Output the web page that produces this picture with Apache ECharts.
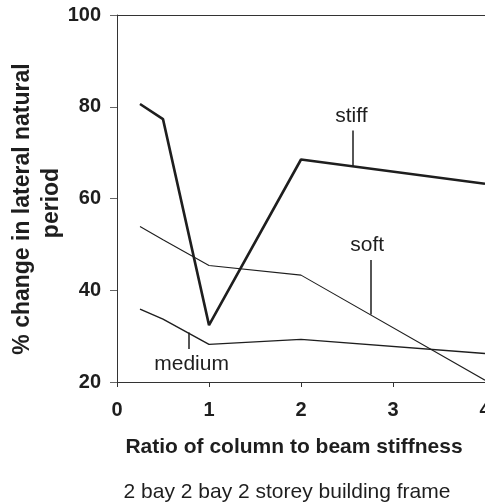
<!DOCTYPE html>
<html>
<head>
<meta charset="utf-8">
<style>
  html, body { margin: 0; padding: 0; background: #fff; }
  #chart { width: 485px; height: 504px; }
</style>
<script src="https://cdn.jsdelivr.net/npm/echarts@6/dist/echarts.min.js"></script>
</head>
<body>
<div id="chart"></div>
<script>
// Stiffness ratio (column / beam) sampled for each frame type
const ratio = [0.25, 0.5, 1, 2, 4];

// % change in lateral natural period
const stiff  = [80.6, 77.3, 32.4, 68.5, 63.2];
const soft   = [53.9, 51.0, 45.4, 43.3, 20.4];
const medium = [35.9, 33.7, 28.2, 29.3, 26.2];

// Axis ticks
const xTicks = [0, 1, 2, 3, 4];
const yTicks = [20, 40, 60, 80, 100];

// Callout text and its leader, in data units: [labelX, labelY, leaderX, leaderTop, leaderBottom]
const stiffCallout  = ['stiff',  2.547, 77.9, 2.558, 74.8, 67.1];
const softCallout   = ['soft',   2.720, 49.9, 2.757, 46.6, 34.7];
const mediumCallout = ['medium', 0.811, 23.8, 0.775, 30.8, 27.2];

const FONT = '"Liberation Sans", Arial, Helvetica, sans-serif';
const INK = '#1e1e1e';

function pairs(xs, ys) { return xs.map((x, i) => [x, ys[i]]); }

function callout(c) {
  return {
    markLine: {
      silent: true,
      symbol: ['none', 'none'],
      label: { show: false },
      lineStyle: { type: 'solid', color: INK, width: 1.5 },
      data: [[{ coord: [c[3], c[4]] }, { coord: [c[3], c[5]] }]]
    },
    markPoint: {
      silent: true,
      symbol: 'circle',
      symbolSize: 0,
      label: {
        show: true, position: 'inside', formatter: c[0],
        fontFamily: FONT, fontSize: 21, color: INK
      },
      data: [{ coord: [c[1], c[2]] }]
    }
  };
}

function lineSeries(name, ys, width, c) {
  return Object.assign({
    name: name,
    type: 'line',
    data: pairs(ratio, ys),
    symbol: 'none',
    lineStyle: { color: INK, width: width },
    clip: false
  }, callout(c));
}

const xRange = { type: 'value', min: xTicks[0], max: xTicks[xTicks.length - 1], interval: 1 };

const chart = echarts.init(document.getElementById('chart'), null, { renderer: 'canvas' });

chart.setOption({
  animation: false,
  backgroundColor: '#fff',
  grid: {
    left: 117, top: 15, width: 368, height: 367,
    containLabel: false,
    outerBoundsMode: 'none',
    show: false
  },
  xAxis: [
    Object.assign({}, xRange, {
      position: 'bottom',
      name: 'Ratio of column to beam stiffness',
      nameLocation: 'middle',
      nameGap: 55,
      nameTextStyle: {
        fontFamily: FONT, fontSize: 21, fontWeight: 'bold', color: INK,
        padding: [0, 14, 0, 0]
      },
      axisLine: { show: true, lineStyle: { color: '#333', width: 1 } },
      axisTick: { show: true, inside: false, length: 5, lineStyle: { color: '#333' } },
      axisLabel: { margin: 18, fontFamily: FONT, fontSize: 20, fontWeight: 'bold', color: INK, showMaxLabel: true },
      splitLine: { show: false }
    }),
    // top frame edge
    Object.assign({}, xRange, {
      position: 'top',
      axisLine: { show: true, lineStyle: { color: '#333', width: 1 } },
      axisTick: { show: false },
      axisLabel: { show: false },
      splitLine: { show: false }
    })
  ],
  yAxis: {
    type: 'value',
    min: yTicks[0], max: yTicks[yTicks.length - 1], interval: 20,
    axisLine: { show: true, lineStyle: { color: '#333', width: 1 } },
    axisTick: { show: true, inside: false, length: 7, lineStyle: { color: '#666' } },
    axisLabel: { margin: 16, fontFamily: FONT, fontSize: 20, fontWeight: 'bold', color: INK },
    splitLine: { show: false }
  },
  graphic: [
    {
      type: 'text', x: 22.5, y: 209, rotation: Math.PI / 2,
      style: {
        text: '% change in lateral natural', fontFamily: FONT, fontSize: 23,
        fontWeight: 'bold', fill: INK, align: 'center', verticalAlign: 'middle'
      }
    },
    {
      type: 'text', x: 52, y: 203, rotation: Math.PI / 2,
      style: {
        text: 'period', fontFamily: FONT, fontSize: 23,
        fontWeight: 'bold', fill: INK, align: 'center', verticalAlign: 'middle'
      }
    },
    {
      type: 'text', x: 287, y: 492,
      style: {
        text: '2 bay 2 bay 2 storey building frame', fontFamily: FONT, fontSize: 21,
        fill: INK, align: 'center', verticalAlign: 'middle'
      }
    }
  ],
  series: [
    lineSeries('stiff', stiff, 2.6, stiffCallout),
    lineSeries('soft', soft, 1.1, softCallout),
    lineSeries('medium', medium, 1.4, mediumCallout)
  ]
});
</script>
</body>
</html>
